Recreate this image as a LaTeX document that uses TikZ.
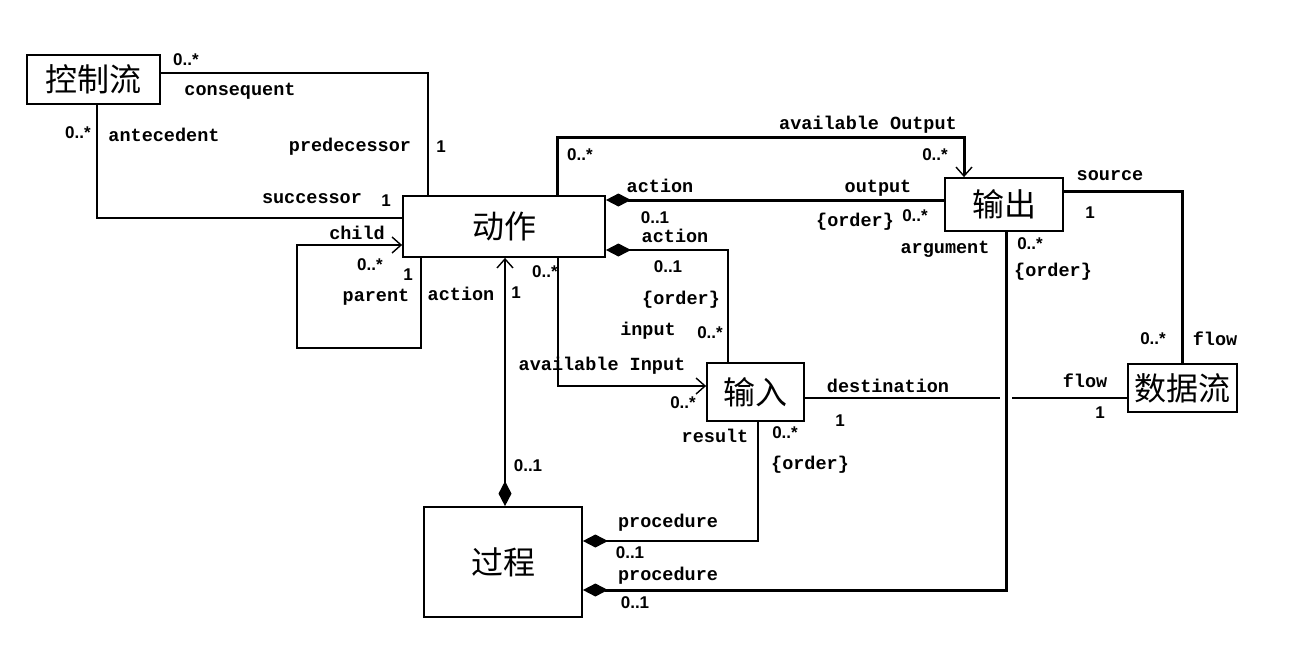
\documentclass[tikz,border=0pt]{standalone}
\usepackage{fontspec}
\usepackage{tikz}
\usetikzlibrary{arrows.meta}
\usetikzlibrary{calc}
\newfontfamily\cjkfont{Noto Sans CJK SC}
\newfontfamily\rolefont{Liberation Mono}
\newfontfamily\multfont{Liberation Sans}
\tikzset{
    % class boxes
    classbox/.style={draw=black, line width=1.8pt, fill=white, inner sep=0pt,
        font=\cjkfont\fontsize{32}{32}\selectfont},
    % plain and heavy associations
    assoc/.style={line width=1.4pt, draw=black},
    heavyassoc/.style={line width=3pt, draw=black},
    % end labels
    rolelabel/.style={inner sep=0pt, font=\rolefont\bfseries\fontsize{18.5}{18.5}\selectfont},
    multlabel/.style={inner sep=0pt, font=\multfont\bfseries\fontsize{17}{17}\selectfont}
}
\tikzset{
    comp/.tip={Diamond[length=25pt,width=13pt]},
    nav/.tip={Straight Barb[length=9pt,width=16pt,line width=1.4pt]}
}
\begin{document}
\begin{tikzpicture}[x=1pt, y=-1pt]
    \useasboundingbox (0,0) rectangle (1290,658);

  % Classes
  \node[classbox, minimum width=133pt, minimum height=49pt] (kzl) at (93.5,79.5) {控制流};
  \node[classbox, minimum width=202pt, minimum height=61pt] (dz)  at (504,226.5) {动作};
  \node[classbox, minimum width=118pt, minimum height=53pt] (sc)  at (1004,204.5) {输出};
  \node[classbox, minimum width=97pt,  minimum height=58pt] (sr)  at (755.5,392) {输入};
  \node[classbox, minimum width=109pt, minimum height=48pt] (sjl) at (1182.5,388) {数据流};
  \node[classbox, minimum width=158pt, minimum height=110pt] (gc) at (503,562) {过程};

  % Bend points
  \coordinate (cq)  at (428,73);
  \coordinate (an)  at (97,218);
  \coordinate (lp1) at (421,348);
  \coordinate (lp2) at (297,245);
  \coordinate (ax)  at (505,0);
  \coordinate (ao1) at (557,138);
  \coordinate (ao2) at (964,138);
  \coordinate (op)  at (0,200);
  \coordinate (ai)  at (728,250);
  \coordinate (ain) at (558,386);
  \coordinate (ds)  at (0,398);
  \coordinate (rs)  at (758,541);
  \coordinate (ag)  at (1006,590);
  \coordinate (so)  at (1182,191);

  % Control flow
  \draw[assoc] (kzl.east |- cq) -- (cq) -- (dz.north -| cq);
  \draw[assoc] (kzl.south -| an) -- (an) -- (dz.west |- an);
  \draw[assoc, -nav] (dz.south -| lp1) -- (lp1) -| (lp2) -- (dz.west |- lp2);

  % Procedure owns actions
  \draw[assoc, comp-nav] (gc.north -| ax) -- (dz.south -| ax);

  % Pins
  \draw[heavyassoc, -nav] (dz.north -| ao1) -- (ao1) -- (ao2) -- (sc.north -| ao2);
  \draw[heavyassoc, comp-] (dz.east |- op) -- (sc.west |- op);
  \draw[assoc, comp-] (dz.east |- ai) -- (ai) -- (sr.north -| ai);
  \draw[assoc, -nav] (dz.south -| ain) -- (ain) -- (sr.west |- ain);

  % Data flow (gap where the argument line crosses)
  \draw[assoc] (sr.east |- ds) -- ($(ag |- ds)+(-6,0)$);
  \draw[assoc] ($(ag |- ds)+(6,0)$) -- (sjl.west |- ds);
  \draw[heavyassoc] (sc.east |- so) -- (so) -- (sjl.north -| so);

  % Procedure results and arguments
  \draw[assoc, comp-] (gc.east |- rs) -- (rs) -- (sr.south -| rs);
  \draw[heavyassoc, comp-] (gc.east |- ag) -- (ag) -- (sc.south -| ag);

  % Role names
  \foreach \txt/\x/\y [count=\i] in {
      consequent/240/91, antecedent/164/135, predecessor/350/147,
      successor/312/199, child/357/233, parent/376/297, action/461/294,
      {available Output}/868/125, action/660/186, output/878/188,
      {\{order\}}/855/222, action/675/236, {\{order\}}/681/300,
      input/648/331, {available Input}/602/366, destination/888/386,
      flow/1085/381, result/715/436, {\{order\}}/810/465,
      procedure/668/523, procedure/668/576, argument/945/249,
      {\{order\}}/1053/272, source/1110/176, flow/1215/339}
    \node[rolelabel] (role\i) at (\x,\y) {\txt};

  % Multiplicities
  \foreach \txt/\x/\y [count=\i] in {
      {0..*}/186/60, {0..*}/78/133, 1/441/147, 1/386/201, {0..*}/370/265,
      1/408/275, 1/516/293, {0..*}/545/272, {0..*}/580/155, {0..*}/935/155,
      {0..1}/655/218, {0..*}/915/216, {0..1}/668/267, {0..*}/710/333,
      {0..*}/683/403, 1/840/421, 1/1100/413, {0..*}/785/433, {0..1}/528/466,
      {0..1}/630/553, {0..1}/635/603, {0..*}/1030/244, 1/1090/213,
      {0..*}/1153/339}
    \node[multlabel] (mult\i) at (\x,\y) {\txt};

\end{tikzpicture}
\end{document}
